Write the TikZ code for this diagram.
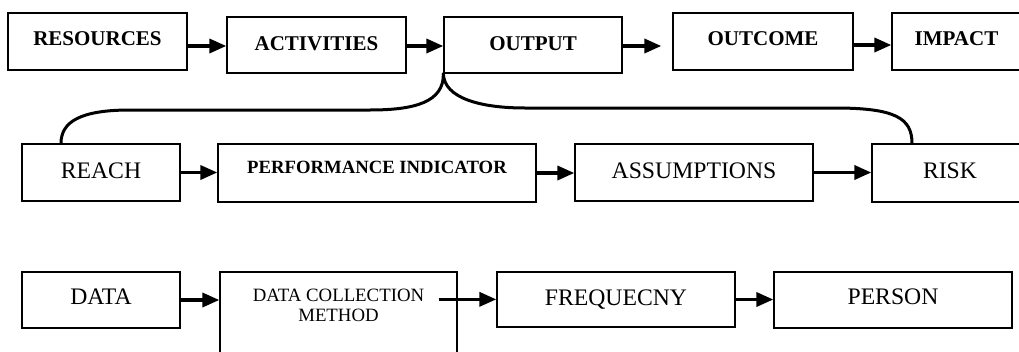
\documentclass[tikz,border=0pt]{standalone}
\usepackage{fontspec}
\setmainfont{Liberation Serif}
\usetikzlibrary{arrows.meta,calc}
\tikzset{
  bx/.style={draw, line width=1.3pt, inner sep=0pt, text depth=5pt},
  topfont/.style={font=\fontsize{21}{25}\selectfont\bfseries},
  midfont/.style={font=\fontsize{23.7}{27}\selectfont},
  arr/.style={line width=3.5pt, -{Triangle[length=17pt,width=14pt]}},
  curve/.style={line width=3pt, line cap=round}
}
\begin{document}
\begin{tikzpicture}[x=1pt,y=-1pt]
\useasboundingbox (0,0) rectangle (1019,351);
\clip (0,0) rectangle (1019,351);
% top row
\node[bx,topfont,minimum width=179,minimum height=57,text height=12pt] (res) at (97.5,41.5) {RESOURCES};
\node[bx,topfont,minimum width=179,minimum height=56,text height=15pt] (act) at (316.5,45) {ACTIVITIES};
\node[bx,topfont,minimum width=178,minimum height=56,text height=15pt] (out) at (533,45) {OUTPUT};
\node[bx,topfont,minimum width=180,minimum height=57,text height=12pt] (outc) at (763,41.5) {OUTCOME};
\node[bx,topfont,minimum width=129,minimum height=57,text height=12pt] (imp) at (956.5,41.5) {IMPACT};
% middle row
\node[bx,midfont,minimum width=158,minimum height=57,text height=16pt] (reach) at (101,172.5) {REACH};
\node[bx,font=\fontsize{18.7}{22}\selectfont\bfseries,minimum width=318,minimum height=58,text height=5pt] (pi) at (377,173) {PERFORMANCE INDICATOR};
\node[bx,midfont,minimum width=238,minimum height=57,text height=16pt] (ass) at (694,172.5) {ASSUMPTIONS};
\node[bx,midfont,minimum width=156,minimum height=58,text height=15pt] (risk) at (950,173) {RISK};
% bottom row
\node[bx,midfont,minimum width=158,minimum height=56,text height=13pt] (data) at (101,300) {DATA};
\node[bx,minimum width=237,minimum height=90] (dcm) at (338.5,317) {};
\node[inner sep=0pt,align=center,anchor=north,font=\fontsize{18.8}{20}\selectfont] (dcmtxt) at (338.5,288.5) {DATA COLLECTION\\METHOD};
\node[bx,midfont,minimum width=238,minimum height=55,text height=16pt] (freq) at (616,299.5) {FREQUECNY};
\node[bx,midfont,minimum width=238,minimum height=56,text height=13pt] (pers) at (893,300) {PERSON};
% arrows top
\coordinate (a1) at ([yshift=-4.5pt]res.east);
\draw[arr] (a1) -- (a1 -| act.west);
\coordinate (a2) at ([yshift=-1pt]act.east);
\draw[arr] (a2) -- (a2 -| out.west);
\coordinate (a3) at ([yshift=-1pt]out.east);
\draw[arr] (a3) -- ([xshift=-11pt]a3 -| outc.west);
\coordinate (a4) at ([yshift=-3.5pt]outc.east);
\draw[arr] (a4) -- (a4 -| imp.west);
% arrows middle
\draw[arr] (reach.east) -- (reach.east -| pi.west);
\draw[arr] (pi.east) -- (pi.east -| ass.west);
\draw[arr] (ass.east) -- (ass.east -| risk.west);
% arrows bottom
\draw[arr] (data.east) -- (data.east -| dcm.west);
\coordinate (dcmout) at ($(dcm.north east)+(-19pt,-28pt)$);
\draw[arr] (dcmout) -- (dcmout -| freq.west);
\draw[arr] (freq.east) -- (freq.east -| pers.west);
% curves
\draw[curve] (out.south west) .. controls (444,102) and (415,110) .. (370,110)
  -- (130,110) .. controls (80,110) and (61,122) .. ([xshift=-40pt]reach.north);
\draw[curve] (out.south west) .. controls (444,98) and (480,108) .. (525,108)
  -- (835,108) .. controls (895,108) and (912,118) .. ([xshift=-38pt]risk.north);
\end{tikzpicture}
\end{document}
